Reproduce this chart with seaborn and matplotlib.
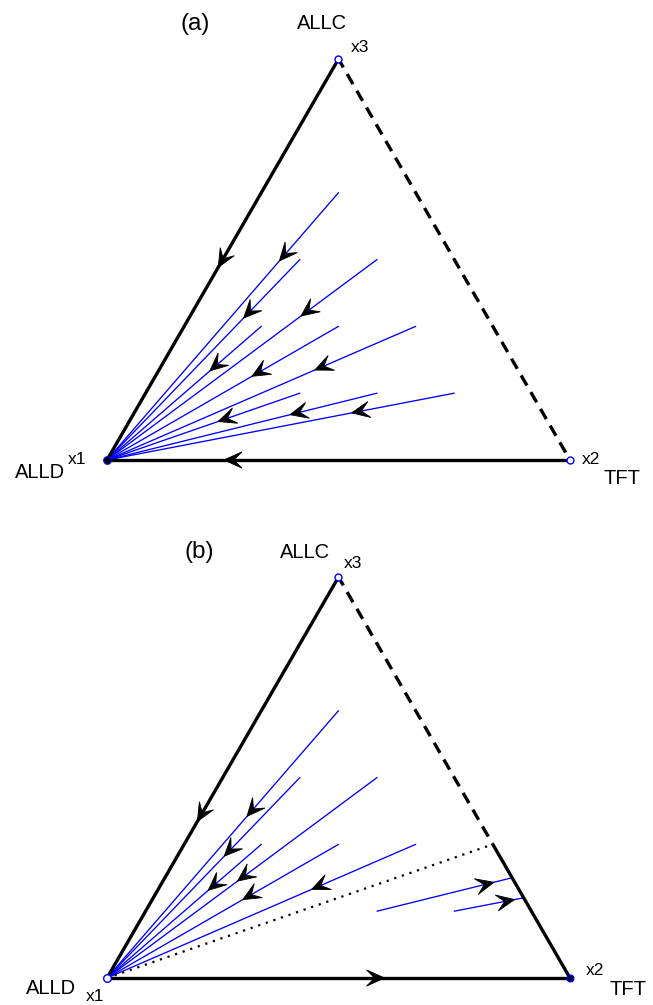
import numpy as np
import pandas as pd
import matplotlib
matplotlib.use("Agg")
import matplotlib.pyplot as plt
from matplotlib.patches import Polygon
import seaborn as sns

sns.set_theme(style="white")
plt.rcParams["font.family"] = ["Liberation Sans", "DejaVu Sans"]
plt.rcParams["text.color"] = "black"

# Initial conditions (x2 = TFT share, x3 = ALLC share; x1 = ALLD share = 1 - x2 - x3)
a_start_x2 = [1/6, 1/6, 1/3, 1/6, 1/3, 1/2, 1/3, 1/2, 2/3]
a_start_x3 = [2/3, 1/2, 1/2, 1/3, 1/3, 1/3, 1/6, 1/6, 1/6]
a_end_x2 = [0, 0, 0, 0, 0, 0, 0, 0, 0]
a_end_x3 = [0, 0, 0, 0, 0, 0, 0, 0, 0]
a_arrow_at = [0.23, 0.26, 0.255, 0.29, 0.34, 0.30, 0.38, 0.29, 0.27]

b_start_x2 = [1/6, 1/6, 1/3, 1/6, 1/3, 1/2, 1/2, 2/3]
b_start_x3 = [2/3, 1/2, 1/2, 1/3, 1/3, 1/3, 1/6, 1/6]
b_end_x2 = [0, 0, 0, 0, 0, 0, 0.75, 0.80]
b_end_x3 = [0, 0, 0, 0, 0, 0, 0.25, 0.20]
b_arrow_at = [0.37, 0.36, 0.49, 0.30, 0.38, 0.31, 0.80, 0.74]

# Mixed equilibrium on the TFT-ALLC edge in panel (b)
b_sep_x2 = 2/3
b_sep_x3 = 1/3

SQ3 = np.sqrt(3) / 2


def to_xy(x2, x3):
    x2 = np.asarray(x2, float)
    x3 = np.asarray(x3, float)
    return x2 + x3 / 2, x3 * SQ3


V_ALLD = to_xy(0, 0)
V_TFT = to_xy(1, 0)
V_ALLC = to_xy(0, 1)


def arrowhead(ax, p0, p1, frac, L=0.039, W=0.0175, color="black"):
    p0 = np.asarray(p0, float)
    p1 = np.asarray(p1, float)
    d = p1 - p0
    d = d / np.hypot(*d)
    n = np.array([-d[1], d[0]])
    c = p0 + frac * (p1 - p0)
    tip = c + 0.5 * L * d
    pts = [tip, tip - L * d + W * n, tip - 0.55 * L * d, tip - L * d - W * n]
    ax.add_patch(Polygon(pts, closed=True, facecolor=color, edgecolor=color,
                         lw=0.6, zorder=6))


def trajectories(ax, sx2, sx3, ex2, ex3, arrows):
    sx, sy = to_xy(sx2, sx3)
    ex, ey = to_xy(ex2, ex3)
    rows = []
    for i in range(len(sx)):
        rows.append((i, 0, sx[i], sy[i]))
        rows.append((i, 1, ex[i], ey[i]))
    df = pd.DataFrame(rows, columns=["traj", "step", "x", "y"])
    sns.lineplot(data=df, x="x", y="y", units="traj", estimator=None,
                 sort=False, color="#0000ff", lw=0.95, ax=ax, legend=False,
                 zorder=3)
    for i in range(len(sx)):
        arrowhead(ax, (sx[i], sy[i]), (ex[i], ey[i]), arrows[i])


EDGE_LW = 2.4
LABEL_FS = 14.5
IDX_FS = 12.5
fig = plt.figure(figsize=(6.53, 10.05), dpi=100)

# ---------------- panel (a) ----------------
axa = fig.add_axes([0, 1 - 500 / 1005, 1, 500 / 1005])
axa.set_xlim(-0.2311, 1.1793)
axa.set_ylim(-0.0864, 0.9935)

axa.plot([V_ALLC[0], V_ALLD[0]], [V_ALLC[1], V_ALLD[1]], color="black",
         lw=EDGE_LW, solid_capstyle="butt", zorder=4)
axa.plot([V_TFT[0], V_ALLD[0]], [V_TFT[1], V_ALLD[1]], color="black",
         lw=EDGE_LW, solid_capstyle="butt", zorder=4)
axa.plot([V_ALLC[0], V_TFT[0]], [V_ALLC[1], V_TFT[1]], color="black",
         lw=EDGE_LW, ls=(0.6, (3.5, 2.3)), zorder=4)
arrowhead(axa, V_ALLC, V_ALLD, 0.5)
arrowhead(axa, V_TFT, V_ALLD, 0.728)

trajectories(axa, a_start_x2, a_start_x3, a_end_x2, a_end_x3, a_arrow_at)

axa.plot(*V_ALLC, "o", ms=5, mfc="white", mec="#0000ff", mew=1.0, zorder=7)
axa.plot(*V_TFT, "o", ms=5, mfc="white", mec="#0000ff", mew=1.0, zorder=7)
axa.plot(*V_ALLD, "o", ms=5.5, mfc="black", mec="#0000ff", mew=0.8, zorder=7)

axa.text(0.190, 0.942, "(a)", fontsize=17.5, ha="center", va="center")
axa.text(0.464, 0.942, "ALLC", fontsize=LABEL_FS, ha="center", va="center")
axa.text(0.546, 0.890, "x3", fontsize=IDX_FS, ha="center", va="center")
axa.text(-0.145, -0.028, "ALLD", fontsize=LABEL_FS, ha="center", va="center")
axa.text(-0.065, 0.002, "x1", fontsize=IDX_FS, ha="center", va="center")
axa.text(1.045, 0.002, "x2", fontsize=IDX_FS, ha="center", va="center")
axa.text(1.112, -0.039, "TFT", fontsize=LABEL_FS, ha="center", va="center")
axa.set_axis_off()

# ---------------- panel (b) ----------------
axb = fig.add_axes([0, 0, 1, 505 / 1005])
axb.set_xlim(-0.2311, 1.1793)
axb.set_ylim(-0.0583, 1.0324)

sep = to_xy(b_sep_x2, b_sep_x3)
axb.plot([V_ALLC[0], V_ALLD[0]], [V_ALLC[1], V_ALLD[1]], color="black",
         lw=EDGE_LW, solid_capstyle="butt", zorder=4)
axb.plot([V_TFT[0], V_ALLD[0]], [V_TFT[1], V_ALLD[1]], color="black",
         lw=EDGE_LW, solid_capstyle="butt", zorder=4)
axb.plot([V_ALLC[0], sep[0]], [V_ALLC[1], sep[1]], color="black",
         lw=EDGE_LW, ls=(0.6, (3.5, 2.3)), zorder=4)
axb.plot([sep[0], V_TFT[0]], [sep[1], V_TFT[1]], color="black",
         lw=EDGE_LW, solid_capstyle="butt", zorder=4)
axb.plot([V_ALLD[0], sep[0]], [V_ALLD[1], sep[1]], color="black",
         lw=1.6, ls=(0, (1, 2.6)), zorder=4)
arrowhead(axb, V_ALLC, V_ALLD, 0.59)
arrowhead(axb, V_ALLD, V_TFT, 0.58)

trajectories(axb, b_start_x2, b_start_x3, b_end_x2, b_end_x3, b_arrow_at)

axb.plot(*V_ALLC, "o", ms=5, mfc="white", mec="#0000ff", mew=1.0, zorder=7)
axb.plot(*V_ALLD, "o", ms=5.5, mfc="white", mec="#0000ff", mew=1.0, zorder=7)
axb.plot(*V_TFT, "o", ms=5, mfc="#000033", mec="#0000ff", mew=0.8, zorder=7)

axb.text(0.199, 0.920, "(b)", fontsize=17.5, ha="center", va="center")
axb.text(0.428, 0.918, "ALLC", fontsize=LABEL_FS, ha="center", va="center")
axb.text(0.531, 0.896, "x3", fontsize=IDX_FS, ha="center", va="center")
axb.text(-0.121, -0.022, "ALLD", fontsize=LABEL_FS, ha="center", va="center")
axb.text(-0.026, -0.041, "x1", fontsize=IDX_FS, ha="center", va="center")
axb.text(1.054, 0.017, "x2", fontsize=IDX_FS, ha="center", va="center")
axb.text(1.125, -0.024, "TFT", fontsize=LABEL_FS, ha="center", va="center")
axb.set_axis_off()

fig.savefig("out.png", dpi=100)
